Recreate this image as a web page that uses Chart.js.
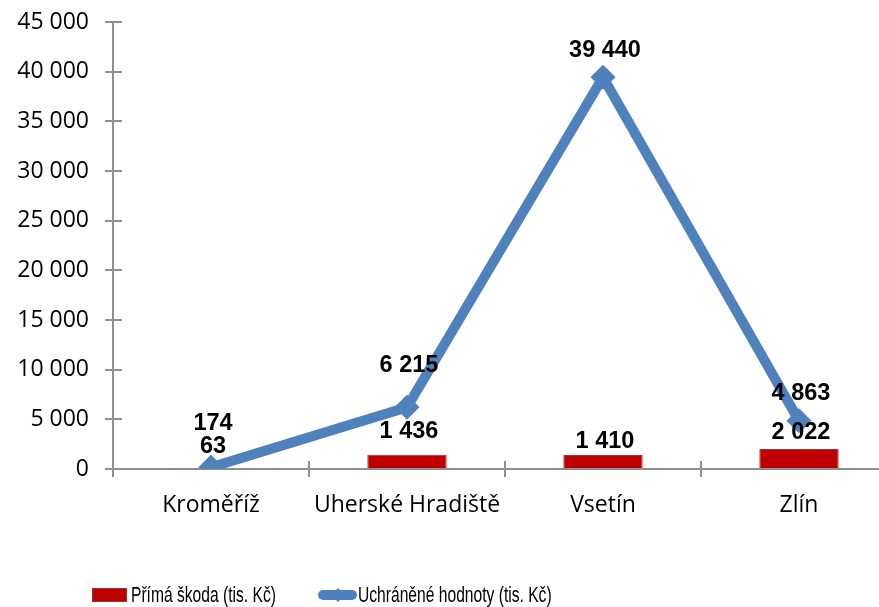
<!DOCTYPE html>
<html>
<head>
<meta charset="utf-8">
<script src="https://cdn.jsdelivr.net/npm/chart.js@4.4.1/dist/chart.umd.min.js"></script>
<style>
	html, body { margin: 0; padding: 0; background: #fff; overflow: hidden; }
	#chart-container { width: 910px; height: 607px; }
</style>
</head>
<body>
<div id="chart-container"><canvas id="chart" width="910" height="607"></canvas></div>
<script>
var categories = ["Kroměříž", "Uherské Hradiště", "Vsetín", "Zlín"];
var primaSkoda = [63, 1436, 1410, 2022];
var uchraneneHodnoty = [174, 6215, 39440, 4863];
var seriesNames = ["Přímá škoda (tis. Kč)", "Uchráněné hodnoty (tis. Kč)"];
var yMax = 45000,
	yStep = 5000;

var axisColor = "#8f8f8f";
var barColor = "#c00000";
var lineColor = "#4f81bd";

function fmt(v) {
	return String(v).replace(/\B(?=(\d{3})+(?!\d))/g, " ");
}

// tick marks in Excel cross the axis line, Chart.js only draws the outer half
var crossTicks = {
	id: "crossTicks",
	afterDatasetsDraw: function (chart) {
		var ctx = chart.ctx,
			area = chart.chartArea,
			x = chart.scales.x,
			y = chart.scales.y;
		var half = (x.getPixelForValue(1) - x.getPixelForValue(0)) / 2;
		ctx.save();
		ctx.strokeStyle = axisColor;
		ctx.lineWidth = 2;
		ctx.beginPath();
		y.ticks.forEach(function (t) {
			var py = Math.round(y.getPixelForValue(t.value));
			ctx.moveTo(area.left, py);
			ctx.lineTo(area.left + 9, py);
		});
		for (var i = 0; i <= categories.length; i++) {
			var px = Math.round(x.getPixelForValue(0) - half + i * 2 * half);
			ctx.moveTo(px, area.bottom);
			ctx.lineTo(px, area.bottom - 8);
		}
		ctx.stroke();
		ctx.restore();
	}
};

var valueLabels = {
	id: "valueLabels",
	afterDatasetsDraw: function (chart, args, opts) {
		var ctx = chart.ctx;
		ctx.save();
		ctx.font = "bold 23.5px 'Liberation Sans', Arial, sans-serif";
		ctx.fillStyle = "#000";
		ctx.textAlign = "center";
		ctx.textBaseline = "middle";
		chart.data.datasets.forEach(function (ds, di) {
			var meta = chart.getDatasetMeta(di);
			var offs = ds.type === "line" ? opts.lineOffsets : opts.barOffsets;
			meta.data.forEach(function (el, i) {
				ctx.fillText(fmt(ds.data[i]), el.x + 2, el.y - offs[i]);
			});
		});
		ctx.restore();
	}
};

var bottomLegend = {
	id: "bottomLegend",
	afterDraw: function (chart, args, opts) {
		var ctx = chart.ctx,
			cy = opts.y;
		ctx.save();
		// bar swatch
		ctx.fillStyle = barColor;
		ctx.strokeStyle = "#953735";
		ctx.lineWidth = 1;
		ctx.fillRect(opts.x1, cy - 7, 35, 14);
		ctx.strokeRect(opts.x1 + 0.5, cy - 6.5, 34, 13);
		// line swatch
		ctx.strokeStyle = lineColor;
		ctx.lineWidth = 10;
		ctx.lineCap = "round";
		ctx.beginPath();
		ctx.moveTo(opts.x2 + 5, cy);
		ctx.lineTo(opts.x2 + 34, cy);
		ctx.stroke();
		ctx.fillStyle = lineColor;
		ctx.beginPath();
		var mx = opts.x2 + 20;
		ctx.moveTo(mx, cy - 7);
		ctx.lineTo(mx + 7, cy);
		ctx.lineTo(mx, cy + 7);
		ctx.lineTo(mx - 7, cy);
		ctx.closePath();
		ctx.fill();
		// condensed legend text
		ctx.fillStyle = "#000";
		ctx.font = "22px 'Liberation Sans', Arial, sans-serif";
		ctx.textBaseline = "middle";
		ctx.textAlign = "left";
		[[opts.x1 + 39, seriesNames[0]], [opts.x2 + 40, seriesNames[1]]].forEach(function (it) {
			ctx.save();
			ctx.translate(it[0], cy + 1);
			ctx.scale(0.71, 1);
			ctx.fillText(it[1], 0, 0);
			ctx.restore();
		});
		ctx.restore();
	}
};

new Chart(document.getElementById("chart"), {
	data: {
		labels: categories,
		datasets: [{
			type: "line",
			label: seriesNames[1],
			data: uchraneneHodnoty,
			order: 0,
			borderColor: lineColor,
			borderWidth: 10,
			backgroundColor: lineColor,
			pointStyle: "rectRot",
			pointRadius: 12,
			pointBorderWidth: 1,
			pointBackgroundColor: lineColor,
			pointBorderColor: lineColor,
			tension: 0
		}, {
			type: "bar",
			label: seriesNames[0],
			data: primaSkoda,
			order: 1,
			backgroundColor: barColor,
			borderColor: "#953735",
			borderWidth: 1,
			categoryPercentage: 1,
			barPercentage: 0.405
		}]
	},
	options: {
		responsive: false,
		animation: false,
		layout: {padding: {top: 0, right: 5, bottom: 0, left: 0}},
		plugins: {
			legend: {display: false},
			tooltip: {enabled: false},
			valueLabels: {
				lineOffsets: [44, 42, 27, 27],
				barOffsets: [22, 23, 13, 16]
			},
			bottomLegend: {x1: 92, x2: 318, y: 595}
		},
		scales: {
			x: {
				grid: {
					offset: true,
					drawOnChartArea: false,
					color: axisColor,
					lineWidth: 2,
					tickLength: 8
				},
				border: {color: axisColor, width: 2},
				ticks: {
					color: "#000",
					padding: 15,
					font: {family: "'Open Sans', sans-serif", size: 23}
				},
				afterFit: function (scale) {
					scale.height = 138;
				}
			},
			y: {
				min: 0,
				max: yMax,
				grid: {
					drawOnChartArea: false,
					color: axisColor,
					lineWidth: 2,
					tickLength: 8
				},
				border: {color: axisColor, width: 2},
				ticks: {
					stepSize: yStep,
					color: "#000",
					padding: 16,
					font: {family: "'Open Sans', sans-serif", size: 23},
					callback: function (v) {
						return fmt(v);
					}
				},
				afterFit: function (scale) {
					scale.width = 113;
					scale.paddingTop = 22;
					scale.paddingBottom = 0;
				}
			}
		}
	},
	plugins: [crossTicks, valueLabels, bottomLegend]
});
</script>
</body>
</html>
